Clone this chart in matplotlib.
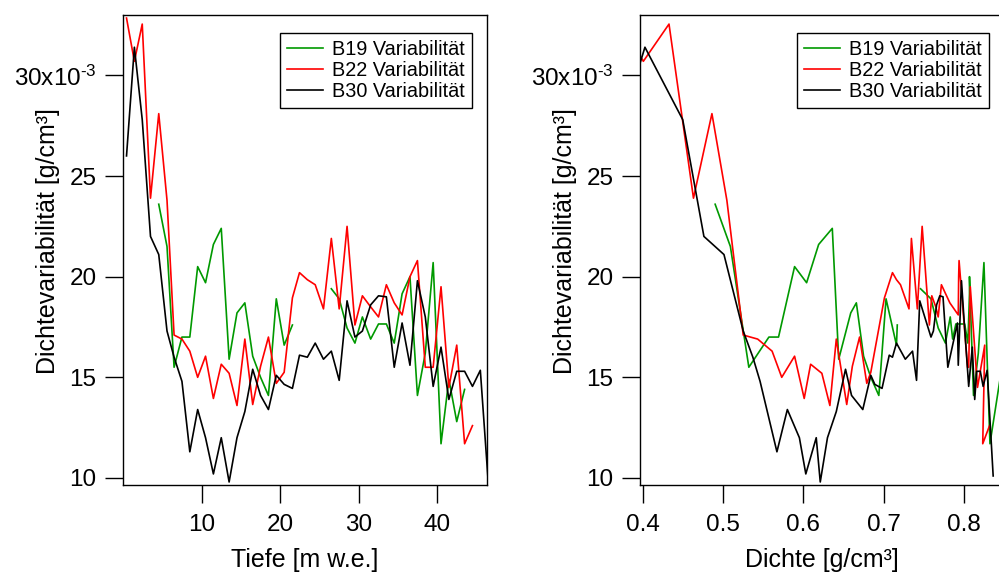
import numpy as np
import matplotlib.pyplot as plt

plt.rcParams['font.family'] = ['Liberation Sans', 'DejaVu Sans']
plt.rcParams['mathtext.fontset'] = 'custom'
plt.rcParams['mathtext.rm'] = 'Liberation Sans'
plt.rcParams['mathtext.it'] = 'Liberation Sans:italic'

nan = np.nan

# Tiefe [m w.e.] der Messpunkte (gleiches Raster fuer alle Kerne)
depth = [0.45, 1.45, 2.45, 3.5, 4.55, 5.6, 6.5, 7.5, 8.5, 9.5,
         10.5, 11.5, 12.5, 13.5, 14.5, 15.5, 16.5, 17.5, 18.5, 19.5,
         20.5, 21.55, 22.45, 23.45, 24.45, 25.5, 26.5, 27.5, 28.5, 29.5,
         30.45, 31.5, 32.5, 33.5, 34.5, 35.5, 36.5, 37.45, 38.45, 39.45,
         40.45, 41.45, 42.45, 43.45, 44.45, 45.45, 46.4]

# Dichtevariabilitaet in 1e-3 g/cm3
var_b19 = [nan, nan, nan, nan, 23.6, 21.5, 15.5, 17.0, 17.0, 20.5,
           19.7, 21.6, 22.4, 15.9, 18.2, 18.7, 16.05, 15.0, 14.1, 18.9,
           16.6, 17.6, nan, nan, nan, nan, 19.4, 18.9, 17.45, 16.7,
           18.0, 16.9, 17.65, 17.65, 16.7, 19.15, 20.0, 14.1, 16.2, 20.7,
           11.7, 14.9, 12.8, 14.4, nan, nan, nan]
var_b22 = [32.85, 30.7, 32.55, 23.9, 28.1, 23.8, 17.1, 16.9, 16.3, 15.0,
           16.05, 13.95, 15.65, 15.2, 13.6, 16.9, 13.65, 15.55, 17.0, 14.7,
           15.25, 18.95, 20.2, 19.85, 19.6, 18.4, 21.9, 18.4, 22.5, 17.6,
           19.05, 18.5, 18.0, 19.6, 18.7, 18.1, 20.0, 20.8, 15.5, 15.5,
           19.5, 14.5, 16.6, 11.7, 12.6, nan, nan]
var_b30 = [26.0, 31.4, 27.8, 22.0, 21.1, 17.3, 16.0, 14.8, 11.3, 13.4,
           12.0, 10.2, 12.0, 9.8, 12.0, 13.3, 15.4, 14.1, 13.4, 15.1,
           14.65, 14.45, 16.1, 16.0, 16.7, 15.9, 16.3, 14.85, 18.8, 17.0,
           17.3, 18.6, 19.05, 19.0, 15.5, 17.7, 15.6, 19.8, 18.0, 14.55,
           16.5, 13.9, 15.3, 15.3, 14.55, 15.35, 10.1]

# Dichte [g/cm3] an denselben Punkten
dens_b19 = [nan, nan, nan, nan, 0.490, 0.509, 0.532, 0.557, 0.569, 0.589,
            0.604, 0.619, 0.636, 0.644, 0.659, 0.666, 0.675, 0.684, 0.694, 0.703,
            0.716, 0.717, nan, nan, nan, nan, 0.746, 0.759, 0.768, 0.777,
            0.783, 0.786, 0.790, 0.801, 0.805, 0.807, 0.807, 0.812, 0.818, 0.825,
            0.8325, 0.845, 0.850, 0.855, nan, nan, nan]
dens_b22 = [0.370, 0.4005, 0.4325, 0.463, 0.486, 0.5046, 0.525, 0.543, 0.561, 0.573,
            0.589, 0.601, 0.609, 0.623, 0.633, 0.641, 0.654, 0.661, 0.670, 0.679,
            0.684, 0.701, 0.711, 0.716, 0.721, 0.7316, 0.7346, 0.742, 0.748, 0.757,
            0.760, 0.765, 0.768, 0.772, 0.7825, 0.793, 0.7935, 0.794, 0.8046, 0.806,
            0.808, 0.817, 0.826, 0.8235, 0.832, nan, nan]
dens_b30 = [0.361, 0.4025, 0.4496, 0.476, 0.501, 0.525, 0.537, 0.546, 0.567, 0.580,
            0.595, 0.603, 0.616, 0.621, 0.630, 0.641, 0.6525, 0.660, 0.674, 0.684,
            0.689, 0.698, 0.707, 0.711, 0.716, 0.727, 0.736, 0.741, 0.745, 0.759,
            0.762, 0.766, 0.770, 0.774, 0.780, 0.792, 0.793, 0.797, 0.800, 0.806,
            0.8105, 0.8135, 0.816, 0.8205, 0.824, 0.829, 0.8365]

labels = ['B19 Variabilität', 'B22 Variabilität', 'B30 Variabilität']
colors = ['#009900', '#ff0000', '#000000']
yticks = [10, 15, 20, 25, 30]
yticklabels = ['10', '15', '20', '25', '30x10$^{\u2010 3}$']


def style(ax, xlabel):
    for s in ax.spines.values():
        s.set_linewidth(1.0)
    ax.tick_params(direction='out', length=13, width=1.0, labelsize=17.5)
    ax.tick_params(axis='y', pad=6)
    ax.tick_params(axis='x', pad=8)
    ax.set_ylim(9.65, 33.0)
    ax.set_yticks(yticks)
    ax.set_yticklabels(yticklabels)
    ax.set_ylabel('Dichtevariabilität [g/cm³]', fontsize=18, va='center')
    ax.yaxis.set_label_coords(-0.206, 0.52)
    ax.set_xlabel(xlabel, fontsize=18, va='center')
    ax.xaxis.set_label_coords(0.5, -0.16)
    leg = ax.legend(loc='upper right', bbox_to_anchor=(0.959, 0.962), borderaxespad=0,
                    fontsize=14.3, fancybox=False, framealpha=1, edgecolor='black',
                    handlelength=1.8, handletextpad=0.45, labelspacing=0.1,
                    borderpad=0.36)
    leg.get_frame().set_linewidth(1.0)


fig = plt.figure(figsize=(9.99, 5.75), dpi=100)
ax1 = fig.add_axes([0.1231, 0.1565, 0.3644, 0.8174])
ax2 = fig.add_axes([0.6406, 0.1565, 0.3644, 0.8174])

for dens, var, lab, col in zip([dens_b19, dens_b22, dens_b30],
                               [var_b19, var_b22, var_b30], labels, colors):
    ax1.plot(depth, var, color=col, lw=1.2, label=lab)
    ax2.plot(dens, var, color=col, lw=1.2, label=lab)

ax1.set_xlim(0, 46.3)
ax1.set_xticks([10, 20, 30, 40])
style(ax1, 'Tiefe [m w.e.]')

ax2.set_xlim(0.3963, 0.85)
ax2.set_xticks([0.4, 0.5, 0.6, 0.7, 0.8])
ax2.set_xticklabels(['0.4', '0.5', '0.6', '0.7', '0.8'])
style(ax2, 'Dichte [g/cm³]')

fig.savefig('out.png', dpi=100)
